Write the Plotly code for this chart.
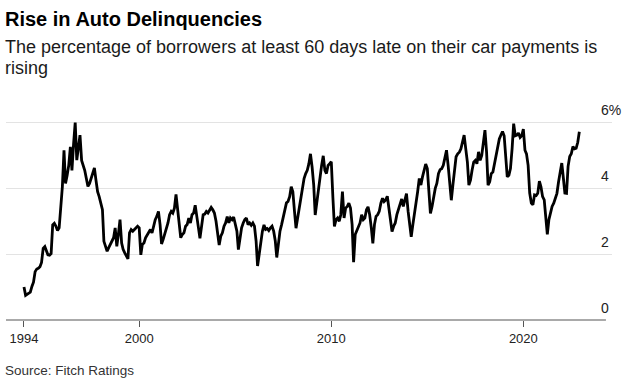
import pandas as pd
import plotly.graph_objects as go

# Monthly share of borrowers 60+ days late (%), Jan 1994 - Dec 2022
delinquency_pct = [
    1.00, 0.75, 0.78, 0.82, 0.85, 1.02, 1.15, 1.47, 1.55, 1.57, 1.62, 1.75,  # 1994
    2.18, 2.23, 2.10, 1.98, 1.97, 2.02, 2.89, 2.94, 2.85, 2.72, 2.80, 3.40,  # 1995
    4.05, 5.16, 4.15, 4.40, 4.70, 5.26, 4.55, 5.35, 6.00, 4.86, 5.20, 5.62,  # 1996
    4.85, 4.70, 4.55, 4.30, 4.06, 4.15, 4.30, 4.45, 4.62, 4.25, 3.90, 3.75,  # 1997
    3.55, 3.35, 2.39, 2.20, 2.09, 2.20, 2.29, 2.40, 2.50, 2.80, 2.24, 2.60,  # 1998
    3.05, 2.34, 2.15, 2.04, 1.95, 1.86, 2.65, 2.75, 2.70, 2.75, 2.80, 2.85,  # 1999
    2.80, 1.98, 2.30, 2.34, 2.50, 2.60, 2.70, 2.75, 2.65, 2.85, 3.05, 3.15,  # 2000
    3.30, 2.90, 2.31, 2.45, 2.60, 2.75, 2.95, 3.20, 3.30, 3.25, 3.40, 3.82,  # 2001
    3.35, 2.90, 2.50, 2.60, 2.65, 2.85, 2.90, 3.10, 2.95, 3.20, 3.25, 3.49,  # 2002
    3.20, 2.80, 2.48, 2.90, 3.20, 3.22, 3.30, 3.25, 3.35, 3.42, 3.35, 3.25,  # 2003
    3.00, 2.60, 2.28, 2.55, 2.65, 2.85, 2.95, 3.14, 2.95, 3.10, 3.05, 3.13,  # 2004
    2.90, 2.70, 2.14, 2.50, 2.80, 2.95, 3.05, 3.10, 2.90, 2.95, 2.88, 2.95,  # 2005
    2.85, 2.40, 1.64, 2.00, 2.40, 2.70, 2.89, 2.75, 2.78, 2.72, 2.80, 2.85,  # 2006
    2.70, 2.40, 1.90, 2.35, 2.70, 2.90, 3.10, 3.35, 3.56, 3.60, 3.75, 4.05,  # 2007
    3.90, 3.30, 2.79, 3.10, 3.40, 3.75, 4.10, 4.30, 4.45, 4.55, 4.75, 5.05,  # 2008
    4.65, 4.10, 3.19, 3.60, 3.90, 4.40, 4.70, 4.99, 4.55, 4.45, 4.70, 4.75,  # 2009
    4.81, 3.70, 2.84, 3.05, 3.10, 3.00, 3.20, 3.90, 3.10, 3.40, 3.45, 3.55,  # 2010
    3.40, 2.90, 1.76, 2.60, 2.70, 2.80, 2.95, 3.20, 3.05, 3.10, 3.35, 3.44,  # 2011
    3.20, 2.80, 2.33, 2.90, 3.15, 3.20, 3.30, 3.55, 3.70, 3.60, 3.65, 3.76,  # 2012
    3.40, 3.10, 2.69, 2.85, 2.95, 3.20, 3.34, 3.55, 3.68, 3.45, 3.65, 3.84,  # 2013
    3.30, 2.90, 2.53, 2.90, 3.20, 3.60, 3.90, 4.30, 4.10, 4.35, 4.55, 4.74,  # 2014
    4.60, 4.00, 3.24, 3.45, 3.80, 4.00, 4.15, 4.45, 4.57, 4.60, 4.70, 4.95,  # 2015
    5.16, 4.70, 4.15, 3.64, 4.10, 4.50, 4.96, 5.05, 5.10, 5.20, 5.40, 5.62,  # 2016
    5.20, 4.80, 4.10, 4.25, 4.55, 4.80, 4.85, 4.75, 5.11, 4.85, 5.00, 5.35,  # 2017
    5.77, 5.10, 4.10, 4.20, 4.45, 4.50, 4.75, 5.10, 5.35, 5.50, 5.62, 5.73,  # 2018
    5.60, 5.00, 4.35, 4.40, 4.60, 5.20, 5.97, 5.60, 5.62, 5.68, 5.55, 5.60,  # 2019
    5.80, 5.16, 5.05, 4.70, 3.86, 3.55, 3.50, 3.80, 3.78, 3.85, 4.22, 4.05,  # 2020
    3.75, 3.65, 3.20, 2.60, 3.05, 3.30, 3.45, 3.55, 3.70, 3.85, 4.20, 4.45,  # 2021
    4.77, 4.30, 3.86, 3.85, 4.67, 4.97, 5.05, 5.27, 5.20, 5.22, 5.40, 5.72,  # 2022
]
months = pd.date_range("1994-01-01", periods=len(delinquency_pct), freq="MS")

x_tick_vals = ["1994-01-01", "2000-01-01", "2010-01-01", "2020-01-01"]
x_tick_text = ["1994", "2000", "2010", "2020"]
y_tick_vals = [0, 2, 4, 6]
y_tick_text = ["0", "2", "4", "6%"]

title = "Rise in Auto Delinquencies"
subtitle_1 = "The percentage of borrowers at least 60 days late on their car payments is"
subtitle_2 = "rising"
source = "Source: Fitch Ratings"

FONT = "Liberation Sans, Arial, Helvetica, sans-serif"
PLOT_TOP, PLOT_BOTTOM = 116, 320
PLOT_H = PLOT_BOTTOM - PLOT_TOP


def py(pixel_y):
    return (PLOT_BOTTOM - pixel_y) / PLOT_H


fig = go.Figure()
fig.add_trace(go.Scatter(
    x=months, y=delinquency_pct, mode="lines",
    line=dict(color="#000000", width=2.8),
    hoverinfo="skip", showlegend=False,
))

fig.update_layout(
    template="none",
    width=637, height=388,
    margin=dict(l=6, r=25, t=PLOT_TOP, b=388 - PLOT_BOTTOM, pad=0),
    paper_bgcolor="white", plot_bgcolor="white",
    font=dict(family=FONT, color="#222222"),
    showlegend=False,
    xaxis=dict(
        type="date", range=["1993-01-24", "2024-08-13"],
        tickvals=x_tick_vals, ticktext=x_tick_text,
        ticks="outside", ticklen=6, tickwidth=1, tickcolor="#555555",
        showline=False,
        showgrid=False, zeroline=False, automargin=False,
        tickfont=dict(size=13, color="#222222", family=FONT),
    ),
    yaxis=dict(
        range=[0, 6.2], side="right",
        tickvals=y_tick_vals, ticktext=y_tick_text,
        ticks="", showline=False, zeroline=False,
        showgrid=True, gridcolor="#e3e3e3", gridwidth=1,
        ticklabelposition="outside", ticklabelstandoff=-12, ticklabelshift=-12,
        automargin=False,
        tickfont=dict(size=14, color="#222222", family=FONT),
    ),
    shapes=[
        # baseline axis rule (slightly shorter than the gridlines, as in the original)
        dict(type="line", xref="paper", yref="paper", x0=0, x1=0.99, y0=0, y1=0,
             line=dict(color="#555555", width=1), layer="above"),
    ],
    annotations=[
        dict(text="<b>" + title + "</b>", xref="paper", yref="paper",
             x=0, y=py(19.5), xanchor="left", yanchor="middle", xshift=-3,
             showarrow=False, font=dict(size=20, color="#000000", family=FONT)),
        dict(text=subtitle_1, xref="paper", yref="paper",
             x=0, y=py(47), xanchor="left", yanchor="middle", xshift=-3,
             showarrow=False, font=dict(size=18, color="#1a1a1a", family=FONT)),
        dict(text=subtitle_2, xref="paper", yref="paper",
             x=0, y=py(68), xanchor="left", yanchor="middle", xshift=-3,
             showarrow=False, font=dict(size=18, color="#1a1a1a", family=FONT)),
        dict(text=source, xref="paper", yref="paper",
             x=0, y=py(370), xanchor="left", yanchor="middle", xshift=-3,
             showarrow=False, font=dict(size=13.5, color="#333333", family=FONT)),
    ],
)

fig.write_html(
    "out.html",
    config={"displayModeBar": False},
    post_script="document.body.style.margin='0';document.body.style.padding='0';"
                "document.body.style.overflow='hidden';",
)
